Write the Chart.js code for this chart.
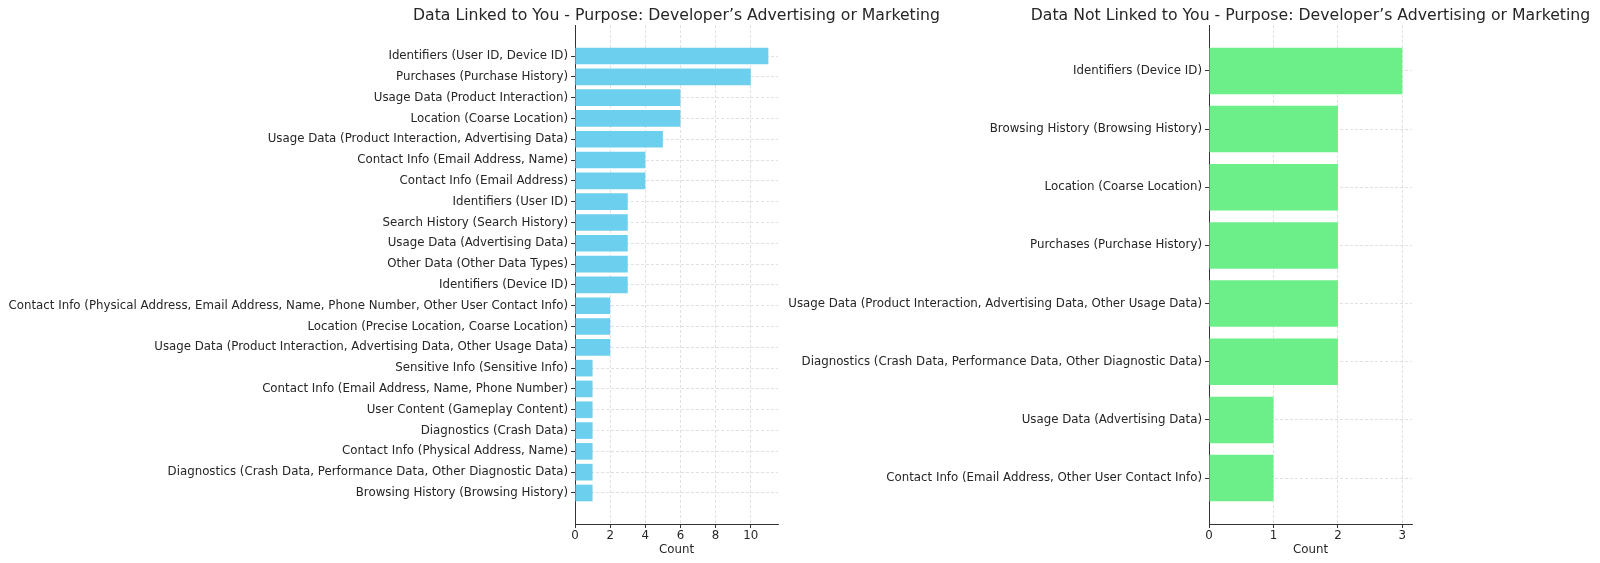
<!DOCTYPE html>
<html>
<head>
<meta charset="utf-8">
<script src="https://cdn.jsdelivr.net/npm/chart.js@4.4.0/dist/chart.umd.min.js"></script>
<style>
html, body { margin: 0; padding: 0; background: #fff; overflow: hidden; width: 1600px; height: 563px; }
canvas { position: absolute; top: 0; }
#linked { left: 0; }
#notLinked { left: 770px; }
</style>
</head>
<body>
<canvas id="linked" width="960" height="563"></canvas>
<canvas id="notLinked" width="830" height="563"></canvas>
<script>
// data, top to bottom
const linkedLabels = [
    'Identifiers (User ID, Device ID)',
    'Purchases (Purchase History)',
    'Usage Data (Product Interaction)',
    'Location (Coarse Location)',
    'Usage Data (Product Interaction, Advertising Data)',
    'Contact Info (Email Address, Name)',
    'Contact Info (Email Address)',
    'Identifiers (User ID)',
    'Search History (Search History)',
    'Usage Data (Advertising Data)',
    'Other Data (Other Data Types)',
    'Identifiers (Device ID)',
    'Contact Info (Physical Address, Email Address, Name, Phone Number, Other User Contact Info)',
    'Location (Precise Location, Coarse Location)',
    'Usage Data (Product Interaction, Advertising Data, Other Usage Data)',
    'Sensitive Info (Sensitive Info)',
    'Contact Info (Email Address, Name, Phone Number)',
    'User Content (Gameplay Content)',
    'Diagnostics (Crash Data)',
    'Contact Info (Physical Address, Name)',
    'Diagnostics (Crash Data, Performance Data, Other Diagnostic Data)',
    'Browsing History (Browsing History)'
];
const linkedCounts = [11, 10, 6, 6, 5, 4, 4, 3, 3, 3, 3, 3, 2, 2, 2, 1, 1, 1, 1, 1, 1, 1];
const linkedTicks = [0, 2, 4, 6, 8, 10];

const notLinkedLabels = [
    'Identifiers (Device ID)',
    'Browsing History (Browsing History)',
    'Location (Coarse Location)',
    'Purchases (Purchase History)',
    'Usage Data (Product Interaction, Advertising Data, Other Usage Data)',
    'Diagnostics (Crash Data, Performance Data, Other Diagnostic Data)',
    'Usage Data (Advertising Data)',
    'Contact Info (Email Address, Other User Contact Info)'
];
const notLinkedCounts = [3, 2, 2, 2, 2, 2, 1, 1];
const notLinkedTicks = [0, 1, 2, 3];

const FONT = 'DejaVu Sans';
const TEXT = '#262626';

// title centred over the plot area (like matplotlib's ax.set_title)
const axesTitle = {
    id: 'axesTitle',
    afterDraw (chart, args, opts) {
        const ctx = chart.ctx, area = chart.chartArea;
        ctx.save();
        ctx.font = '15.7px "' + FONT + '"';
        ctx.fillStyle = TEXT;
        ctx.textAlign = 'center';
        ctx.textBaseline = 'alphabetic';
        ctx.fillText(opts.text, (area.left + area.right) / 2, 19.5);
        ctx.restore();
    }
};

function renderBars (id, title, labels, counts, color, xTicks, yAxisWidth, padRight) {
    const n = labels.length;
    const margin = 0.05 * (n - 1 + 0.8);
    const xMax = Math.max(...counts) * 1.05;
    const axisStyle = () => ({
        grid: { color: '#d9d9d9', lineWidth: 0.8, tickColor: '#333', tickLength: 4, tickWidth: 1, offset: false },
        border: { color: '#333', width: 1, dash: [3, 2] },
    });
    new Chart(document.getElementById(id), {
        type: 'bar',
        data: {
            datasets: [{
                data: counts.map((c, i) => ({ x: c, y: i })),
                backgroundColor: color,
                borderWidth: 0,
                barPercentage: 0.8,
                categoryPercentage: 1
            }]
        },
        options: {
            indexAxis: 'y',
            responsive: false,
            animation: false,
            devicePixelRatio: 1,
            layout: { padding: { top: 25, right: padRight, bottom: 0, left: 0 } },
            plugins: {
                legend: { display: false },
                tooltip: { enabled: false },
                axesTitle: { text: title }
            },
            scales: {
                x: {
                    type: 'linear',
                    min: 0,
                    max: xMax,
                    ...axisStyle(),
                    afterBuildTicks: s => { s.ticks = xTicks.map(v => ({ value: v })) },
                    afterFit: s => { s.height = 39 },
                    ticks: { color: TEXT, font: { family: FONT, size: 11.8 }, padding: 1 },
                    title: { display: true, text: 'Count', color: TEXT, font: { family: FONT, size: 11.8 }, padding: { top: 0, bottom: 6 } }
                },
                y: {
                    type: 'linear',
                    reverse: true,
                    offset: false,
                    min: -0.4 - margin,
                    max: n - 0.6 + margin,
                    ...axisStyle(),
                    afterBuildTicks: s => { s.ticks = labels.map((l, i) => ({ value: i })) },
                    afterFit: s => { s.width = yAxisWidth },
                    ticks: { color: TEXT, font: { family: FONT, size: 11.8 }, padding: 3, autoSkip: false, callback: v => labels[v] }
                }
            }
        },
        plugins: [axesTitle]
    });
}

renderBars('linked', 'Data Linked to You - Purpose: Developer\u2019s Advertising or Marketing',
    linkedLabels, linkedCounts, '#6dcfee', linkedTicks, 575, 182);
renderBars('notLinked', 'Data Not Linked to You - Purpose: Developer\u2019s Advertising or Marketing',
    notLinkedLabels, notLinkedCounts, '#6cef88', notLinkedTicks, 439, 188);
</script>
</body>
</html>
